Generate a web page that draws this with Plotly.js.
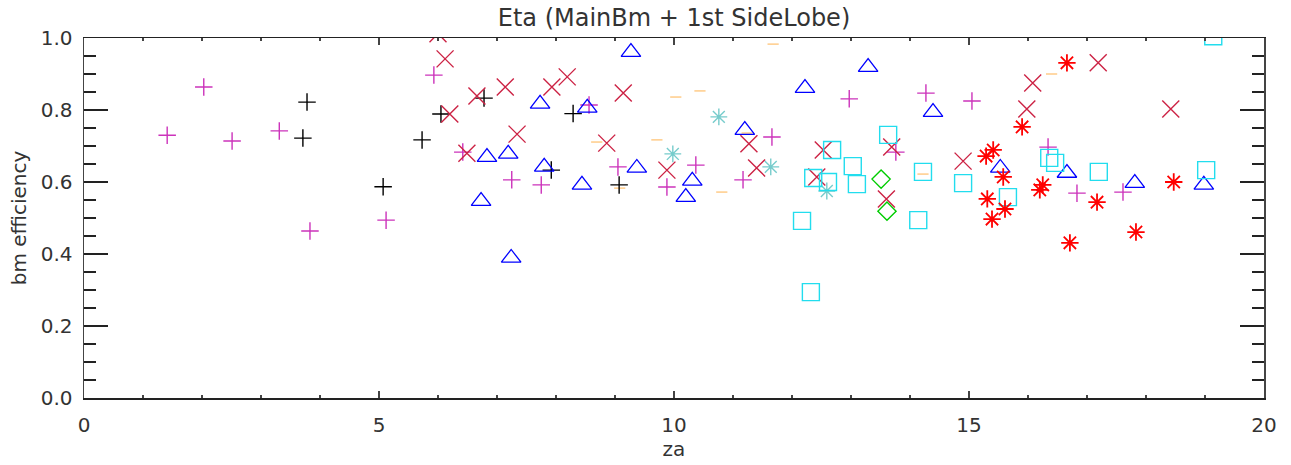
<!DOCTYPE html>
<html>
<head>
<meta charset="utf-8">
<script src="https://cdn.plot.ly/plotly-3.0.1.min.js"></script>
<style>html,body{margin:0;padding:0;background:#fff;}#chart{width:1291px;height:465px;}</style>
</head>
<body>
<div id="chart"></div>
<script>
// Series: magenta plus
const magentaPlusX = [1.41, 2.03, 2.51, 3.31, 3.83, 5.12, 5.93, 6.42, 7.25, 7.75, 8.56, 9.05, 9.88, 10.37, 11.17, 11.66, 12.97, 13.76, 14.27, 15.05, 16.34, 16.83, 17.61];
const magentaPlusY = [0.73, 0.864, 0.714, 0.742, 0.464, 0.494, 0.897, 0.683, 0.606, 0.592, 0.814, 0.642, 0.586, 0.647, 0.606, 0.725, 0.831, 0.683, 0.847, 0.825, 0.697, 0.569, 0.572];
// black plus
const blackPlusX = [3.71, 3.78, 5.07, 5.73, 6.05, 6.78, 7.92, 8.29, 9.07];
const blackPlusY = [0.722, 0.822, 0.587, 0.717, 0.789, 0.833, 0.633, 0.79, 0.592];
// crimson x
const crimsonXX = [6.0, 6.12, 6.2, 6.49, 6.66, 7.14, 7.34, 7.93, 8.19, 8.86, 9.14, 9.88, 11.27, 11.4, 12.42, 12.53, 13.6, 13.69, 14.9, 15.98, 16.08, 17.19, 18.42];
const crimsonXY = [1.012, 0.942, 0.789, 0.68, 0.839, 0.864, 0.733, 0.864, 0.892, 0.708, 0.847, 0.633, 0.706, 0.639, 0.614, 0.689, 0.553, 0.697, 0.658, 0.803, 0.875, 0.931, 0.803];
// blue triangles
const blueTriX = [6.73, 6.83, 7.19, 7.24, 7.73, 7.8, 8.44, 8.53, 9.27, 9.37, 10.2, 10.31, 11.2, 12.22, 13.29, 14.39, 15.53, 16.66, 17.81, 18.98];
const blueTriY = [0.547, 0.669, 0.678, 0.389, 0.817, 0.642, 0.592, 0.806, 0.961, 0.639, 0.558, 0.603, 0.744, 0.861, 0.919, 0.794, 0.639, 0.625, 0.597, 0.592];
// orange dashes
const orangeDashX = [8.69, 9.08, 9.71, 10.03, 10.44, 10.81, 11.24, 11.68, 14.22, 16.4];
const orangeDashY = [0.711, 0.583, 0.717, 0.836, 0.853, 0.572, 0.736, 0.983, 0.622, 0.9];
// teal asterisks
const tealAstX = [9.98, 10.76, 11.64, 12.59];
const tealAstY = [0.678, 0.781, 0.642, 0.575];
// cyan squares
const cyanSqX = [12.17, 12.32, 12.36, 12.61, 12.68, 13.03, 13.1, 13.63, 14.14, 14.22, 14.9, 15.66, 16.36, 16.46, 17.2, 19.02, 19.14];
const cyanSqY = [0.492, 0.294, 0.611, 0.6, 0.689, 0.644, 0.594, 0.731, 0.494, 0.628, 0.597, 0.558, 0.667, 0.653, 0.628, 0.633, 1.005];
// green diamonds
const greenDiaX = [13.51, 13.61];
const greenDiaY = [0.608, 0.519];
// red asterisks
const redAstX = [15.29, 15.31, 15.39, 15.41, 15.58, 15.61, 15.9, 16.2, 16.25, 16.66, 16.71, 17.17, 17.83, 18.47];
const redAstY = [0.672, 0.553, 0.497, 0.689, 0.614, 0.525, 0.753, 0.578, 0.592, 0.931, 0.431, 0.544, 0.461, 0.6];

const xTickVals = [0, 5, 10, 15, 20];
const yTickVals = [0.0, 0.2, 0.4, 0.6, 0.8, 1.0];

function series(x, y, symbol, color, size, width) {
  return {
    x: x, y: y, type: 'scatter', mode: 'markers', cliponaxis: true, hoverinfo: 'x+y',
    marker: {symbol: symbol, size: size, color: color, line: {color: color, width: width}}
  };
}

const data = [
  series(orangeDashX, orangeDashY, 'line-ew-open', '#FFC880', 8, 1.4),
  series(magentaPlusX, magentaPlusY, 'cross-thin-open', '#CC33BB', 12.5, 1.4),
  series(blackPlusX, blackPlusY, 'cross-thin-open', '#000000', 12.5, 1.4),
  series(crimsonXX, crimsonXY, 'x-thin-open', '#CC2244', 17, 1.4),
  series(blueTriX, blueTriY, 'triangle-up-open', '#0000FF', 17, 1.3),
  series(tealAstX, tealAstY, 'asterisk-open', '#77CCCC', 14, 1.4),
  series(cyanSqX, cyanSqY, 'square-open', '#22DDEE', 17, 1.4),
  series(greenDiaX, greenDiaY, 'diamond-open', '#00CC00', 14, 1.4),
  series(redAstX, redAstY, 'asterisk-open', '#FF0000', 14.5, 1.8)
];

const font = {family: 'DejaVu Sans', size: 20, color: '#333333'};

const layout = {
  width: 1291, height: 465,
  margin: {l: 84, r: 27, t: 38, b: 67, pad: 0},
  paper_bgcolor: '#ffffff', plot_bgcolor: '#ffffff',
  showlegend: false,
  font: font,
  title: {text: 'Eta (MainBm + 1st SideLobe)', font: {family: 'DejaVu Sans', size: 24, color: '#333333'},
          x: 0.5, xref: 'paper', xanchor: 'center', y: 0.962, yref: 'container', yanchor: 'middle'},
  xaxis: {
    range: [0, 20], showgrid: false, zeroline: false,
    showline: true, linecolor: '#222222', linewidth: 1.5, mirror: 'ticks',
    ticks: 'inside', ticklen: 7, tickwidth: 1.2, tickcolor: '#444444',
    tickvals: xTickVals, ticktext: xTickVals.map(String),
    minor: {ticks: 'inside', ticklen: 3, tickwidth: 1.2, tickcolor: '#444444', dtick: 1, showgrid: false},
    ticklabelstandoff: 8,
    tickfont: font,
    title: {text: 'za', font: font, standoff: 3}
  },
  yaxis: {
    range: [0, 1], showgrid: false, zeroline: false,
    showline: true, linecolor: '#444444', linewidth: 1.5, mirror: 'ticks',
    ticks: 'inside', ticklen: 24, tickwidth: 1.2, tickcolor: '#222222',
    tickvals: yTickVals, ticktext: yTickVals.map(v => v.toFixed(1)),
    minor: {ticks: 'inside', ticklen: 12, tickwidth: 1.2, tickcolor: '#222222', dtick: 0.05, showgrid: false},
    ticklabelstandoff: 6,
    tickfont: font,
    title: {text: 'bm efficiency', font: font, standoff: 8}
  }
};

Plotly.newPlot('chart', data, layout, {displayModeBar: false, staticPlot: true});
</script>
</body>
</html>
